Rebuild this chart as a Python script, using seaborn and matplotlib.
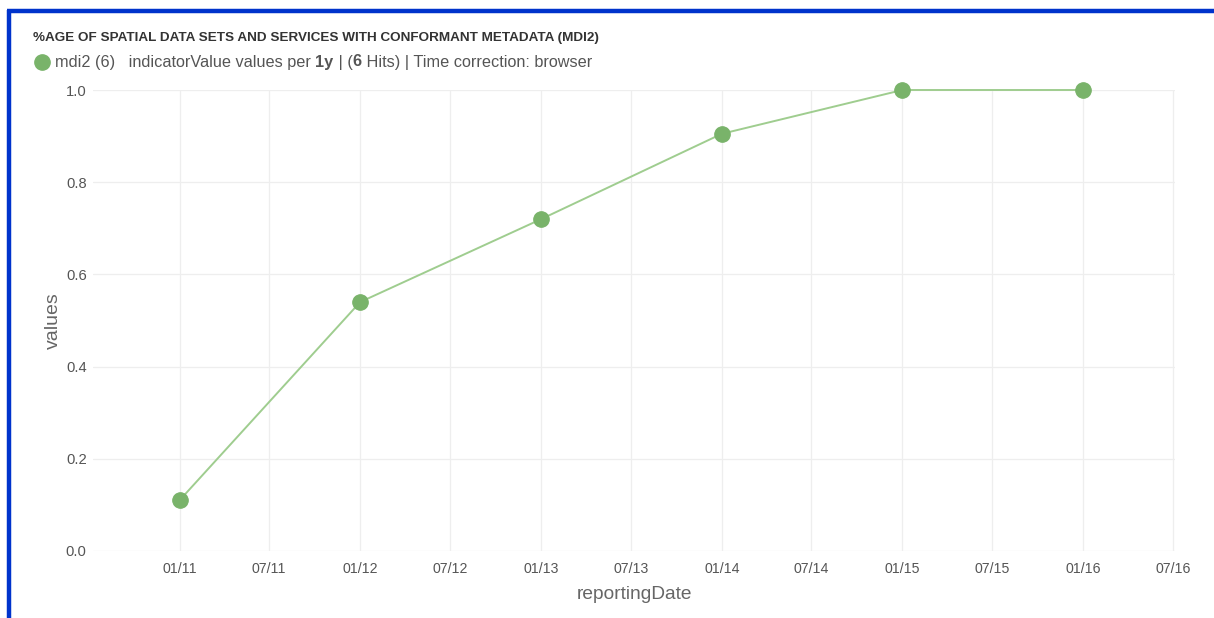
import matplotlib
matplotlib.use("Agg")
import matplotlib.pyplot as plt
import matplotlib.dates as mdates
from matplotlib.lines import Line2D
import pandas as pd
import seaborn as sns

# Yearly indicator values (mdi2)
dates = ["2011-01-01", "2012-01-01", "2013-01-01", "2014-01-01", "2015-01-01", "2016-01-01"]
values = [0.11, 0.54, 0.72, 0.905, 1.0, 1.0]

title = "%AGE OF SPATIAL DATA SETS AND SERVICES WITH CONFORMANT METADATA (MDI2)"

df = pd.DataFrame({"reportingDate": pd.to_datetime(dates), "values": values})

sns.set_theme(style="white")
plt.rcParams["font.family"] = ["Liberation Sans", "DejaVu Sans"]

W, H = 1214, 618
fig = plt.figure(figsize=(W / 100, H / 100), dpi=100)
ax = fig.add_axes([93 / W, 1 - 551 / H, (1175 - 93) / W, (551 - 90) / H])

line_color = "#9fcd8f"
marker_color = "#79b36a"
sns.lineplot(data=df, x="reportingDate", y="values", ax=ax, color=line_color,
             linewidth=1.4, marker="o", markersize=11.2,
             markerfacecolor=marker_color, markeredgecolor=marker_color,
             clip_on=False, zorder=3)

ax.set_xlim(pd.Timestamp("2010-07-10"), pd.Timestamp("2016-07-05"))
ax.set_ylim(0, 1.0)
ax.set_yticks([0.0, 0.2, 0.4, 0.6, 0.8, 1.0])
ax.yaxis.set_major_formatter(matplotlib.ticker.FormatStrFormatter("%.1f"))
ax.xaxis.set_major_locator(mdates.MonthLocator(bymonth=[1, 7]))
ax.xaxis.set_major_formatter(mdates.DateFormatter("%m/%y"))

ax.grid(True, color="#eeeeee", linewidth=0.9)
ax.set_axisbelow(True)
for s in ax.spines.values():
    s.set_visible(False)
ax.tick_params(axis="x", length=0, labelsize=10.2, labelcolor="#555555", pad=8)
ax.tick_params(axis="y", length=0, labelsize=10.6, labelcolor="#555555", pad=4.5)
ax.set_xlabel("reportingDate", fontsize=13.8, color="#666666", labelpad=7)
ax.set_ylabel("values", fontsize=14, color="#666666", labelpad=3)

# Blue frame along top and left edges
fig.add_artist(Line2D([7 / W, 1], [1 - 11 / H, 1 - 11 / H], color="#0033cc",
                      linewidth=3.2, solid_capstyle="butt", transform=fig.transFigure))
fig.add_artist(Line2D([9 / W, 9 / W], [0, 1 - 9.5 / H], color="#0033cc",
                      linewidth=3.2, solid_capstyle="butt", transform=fig.transFigure))

# Chart title
fig.text(33 / W, 1 - 38 / H, title, fontsize=9.7, fontweight="bold",
         color="#333333", va="center", ha="left")

# Series legend line with mixed weights
fig.add_artist(Line2D([42 / W], [1 - 62 / H], marker="o", markersize=11,
                      color=marker_color, linestyle="none", transform=fig.transFigure))
fig.canvas.draw()
renderer = fig.canvas.get_renderer()
parts = [("mdi2 (6)   indicatorValue values per ", "normal"), ("1y", "bold"),
         (" | (", "normal"), ("6", "bold"),
         (" Hits) | Time correction: browser", "normal")]
x = 55
for txt, wt in parts:
    t = fig.text(x / W, 1 - 66.5 / H, txt, fontsize=11.7, fontweight=wt,
                 color="#555555", va="baseline", ha="left")
    bb = t.get_window_extent(renderer)
    x += bb.width

fig.savefig("out.png", dpi=100)
